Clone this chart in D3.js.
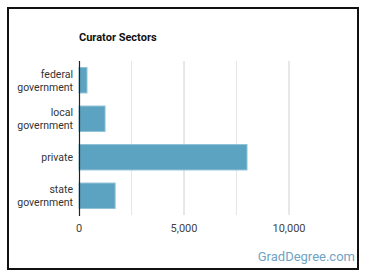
<!DOCTYPE html>
<html>
<head>
<meta charset="utf-8">
<script src="https://cdn.jsdelivr.net/npm/d3@7"></script>
<style>
  body { margin: 0; background: #fff; }
  text { font-family: Roboto, Arial, sans-serif; }
</style>
</head>
<body>
<script>
const categories = ['federal government', 'local government', 'private', 'state government'];
const values = [380, 1240, 8000, 1720];
const tickValues = [0, 5000, 10000];
const gridValues = [2500, 5000, 7500, 10000];

const W = 370, H = 278;
const svg = d3.select('body').append('svg')
    .attr('width', W).attr('height', H);

svg.append('rect')
    .attr('x', 0).attr('y', 0).attr('width', W).attr('height', H)
    .attr('fill', '#fff');

// outer frame
svg.append('rect')
    .attr('x', 8).attr('y', 8)
    .attr('width', 350).attr('height', 261)
    .attr('fill', 'none')
    .attr('stroke', '#111')
    .attr('stroke-width', 2);

svg.append('text')
    .attr('x', 79).attr('y', 41)
    .attr('font-size', 11)
    .attr('font-weight', 'bold')
    .attr('fill', '#111')
    .text('Curator Sectors');

const x = d3.scaleLinear().domain([0, 10000]).range([79, 289]);
const y = d3.scaleBand().domain(categories).range([61, 215]).paddingInner(0.34).paddingOuter(0.17);

svg.append('g').selectAll('line')
    .data(gridValues)
    .join('line')
    .attr('x1', d => x(d)).attr('x2', d => x(d))
    .attr('y1', 61).attr('y2', 215)
    .attr('stroke', d => d % 5000 === 0 ? '#d0d0d0' : '#e6e6e6')
    .attr('stroke-width', 1);

svg.append('g').selectAll('rect')
    .data(values)
    .join('rect')
    .attr('x', x(0))
    .attr('y', (d, i) => y(categories[i]))
    .attr('width', d => x(d) - x(0))
    .attr('height', y.bandwidth())
    .attr('fill', '#5ba3c1')
    .attr('stroke', '#8fc1d6')
    .attr('stroke-width', 1);

// axis line
svg.append('line')
    .attr('x1', x(0) + 0.5).attr('x2', x(0) + 0.5)
    .attr('y1', 61).attr('y2', 216)
    .attr('stroke', '#222')
    .attr('stroke-width', 1.2);

// category labels, wrapped on spaces
const labels = svg.append('g').selectAll('text')
    .data(categories)
    .join('text')
    .attr('text-anchor', 'end')
    .attr('font-size', 10.5)
    .attr('fill', '#333');

labels.each(function(d) {
    const words = d.split(' ');
    const cy = y(d) + y.bandwidth() / 2;
    const lh = 13;
    const t = d3.select(this);
    words.forEach((w, i) => {
        t.append('tspan')
            .attr('x', 73)
            .attr('y', cy + 4 + (i - (words.length - 1) / 2) * lh)
            .text(w);
    });
});

svg.append('g').selectAll('text')
    .data(tickValues)
    .join('text')
    .attr('x', d => x(d))
    .attr('y', 232)
    .attr('text-anchor', 'middle')
    .attr('font-size', 11)
    .attr('fill', '#444')
    .text(d => d3.format(',')(d));

svg.append('text')
    .attr('x', 355).attr('y', 261)
    .attr('text-anchor', 'end')
    .attr('font-size', 13)
    .attr('fill', '#6fa3c4')
    .text('GradDegree.com');
</script>
</body>
</html>
